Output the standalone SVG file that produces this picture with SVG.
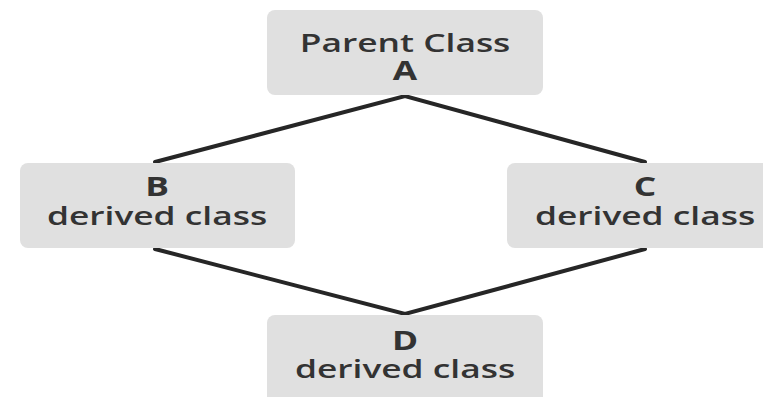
<svg xmlns="http://www.w3.org/2000/svg" width="763" height="397" viewBox="0 0 763 397">
<style>
.box{fill:#e0e0e0;}
.t{font-family:"Open Sans","Noto Sans",sans-serif;font-size:26px;fill:#333;text-anchor:middle;font-weight:600;}
.b{font-weight:700;}
.edge{stroke:#262626;stroke-width:4;fill:none;stroke-linecap:round;}
</style>
<rect width="763" height="397" fill="#fff"/>
<g id="edges">
<polyline class="edge" points="155,162 405,96 645,162"/>
<polyline class="edge" points="155,249 405,314 645,249"/>
</g>
<g id="A">
<rect class="box" x="267" y="10" width="276" height="85" rx="8"/>
<text class="t" transform="matrix(1.36 0 0 1 405 52)">Parent Class</text>
<text class="t b" transform="matrix(1.36 0 0 1 405 80)">A</text>
</g>
<g id="B">
<rect class="box" x="20" y="163" width="275" height="85" rx="8"/>
<text class="t b" transform="matrix(1.36 0 0 1 157 196)">B</text>
<text class="t" transform="matrix(1.36 0 0 1 157 225)">derived class</text>
</g>
<g id="C">
<rect class="box" x="507" y="163" width="270" height="85" rx="8"/>
<text class="t b" transform="matrix(1.36 0 0 1 645 196)">C</text>
<text class="t" transform="matrix(1.36 0 0 1 645 225)">derived class</text>
</g>
<g id="D">
<rect class="box" x="267" y="315" width="276" height="95" rx="8"/>
<text class="t b" transform="matrix(1.36 0 0 1 405 350)">D</text>
<text class="t" transform="matrix(1.36 0 0 1 405 378)">derived class</text>
</g>
</svg>
